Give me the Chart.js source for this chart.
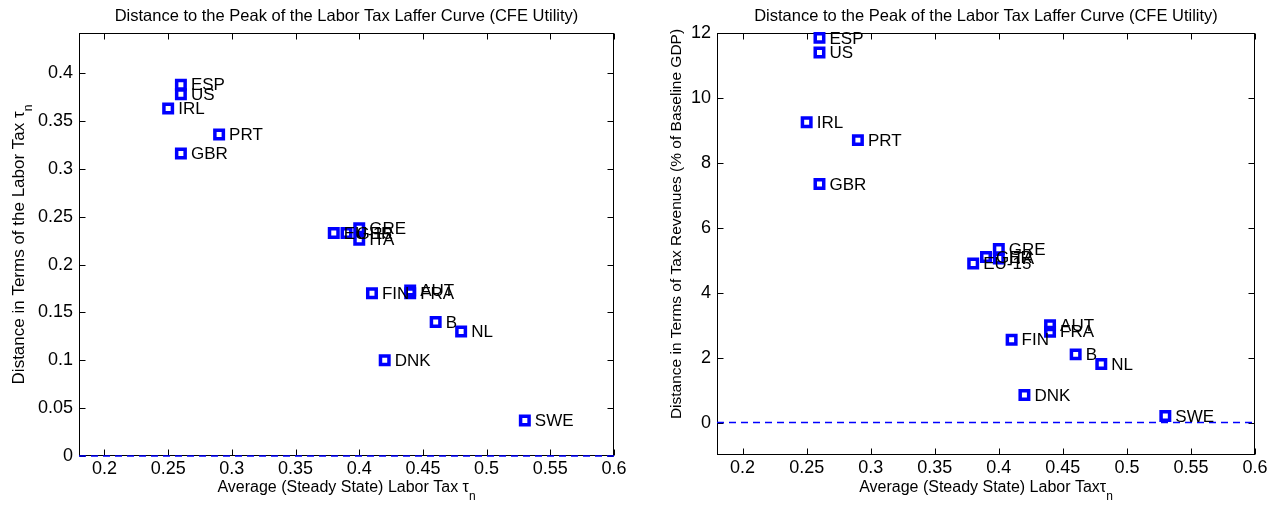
<!DOCTYPE html>
<html>
<head>
<meta charset="utf-8">
<script src="https://cdn.jsdelivr.net/npm/chart.js@4/dist/chart.umd.min.js"></script>
<style>
  body { margin: 0; background: #fff; width: 1279px; height: 508px; overflow: hidden; }
  .panel { position: absolute; top: 0; height: 508px; }
  #p1 { left: 0; width: 640px; }
  #p2 { left: 640px; width: 639px; }
</style>
</head>
<body>
<div class="panel" id="p1"><canvas id="c1" width="640" height="508"></canvas></div>
<div class="panel" id="p2"><canvas id="c2" width="639" height="508"></canvas></div>
<script>
// ---- data ----
var countries   = ['ESP', 'US', 'IRL', 'PRT', 'GBR', 'GRE', 'EU-15', 'GER', 'ITA', 'FIN', 'AUT', 'FRA', 'B', 'NL', 'DNK', 'SWE'];
var laborTax    = [0.26, 0.26, 0.25, 0.29, 0.26, 0.40, 0.38, 0.39, 0.40, 0.41, 0.44, 0.44, 0.46, 0.48, 0.42, 0.53];
var distTax     = [0.388, 0.378, 0.363, 0.336, 0.316, 0.238, 0.233, 0.233, 0.226, 0.170, 0.173, 0.170, 0.140, 0.130, 0.100, 0.037];
var distRevenue = [11.85, 11.4, 9.25, 8.7, 7.35, 5.35, 4.9, 5.1, 5.05, 2.55, 3.0, 2.8, 2.1, 1.8, 0.85, 0.2];

var xTicks      = [0.2, 0.25, 0.3, 0.35, 0.4, 0.45, 0.5, 0.55, 0.6];
var yTicksLeft  = [0, 0.05, 0.1, 0.15, 0.2, 0.25, 0.3, 0.35, 0.4];
var yTicksRight = [0, 2, 4, 6, 8, 10, 12];
var zeroLineX   = [0.18, 0.6];

var TITLE = 'Distance to the Peak of the Labor Tax Laffer Curve (CFE Utility)';
var FONT = '"Liberation Sans", Arial, Helvetica, sans-serif';
var BLUE = '#0000ff';

// text with a small subscript after it, optionally rotated
function drawSubText(ctx, main, sub, cx, cy, size, rotate) {
  ctx.save();
  ctx.translate(cx, cy);
  if (rotate) ctx.rotate(-Math.PI / 2);
  ctx.font = size + 'px ' + FONT;
  var w1 = ctx.measureText(main).width;
  ctx.font = Math.round(size * 0.72) + 'px ' + FONT;
  var w2 = ctx.measureText(sub).width;
  var x0 = -(w1 + w2) / 2;
  ctx.fillStyle = '#000';
  ctx.textBaseline = 'middle';
  ctx.textAlign = 'left';
  ctx.font = size + 'px ' + FONT;
  ctx.fillText(main, x0, 0);
  ctx.font = Math.round(size * 0.72) + 'px ' + FONT;
  ctx.fillText(sub, x0 + w1, size * 0.55);
  ctx.restore();
}

// matlab style box with inward ticks
var framePlugin = {
  id: 'frame',
  beforeDatasetsDraw: function (chart) {
    var ctx = chart.ctx, a = chart.chartArea;
    var xs = chart.scales.x, ys = chart.scales.y;
    var L = Math.round(a.left) + 0.5, R = Math.round(a.right) - 0.5;
    var T = Math.round(a.top) + 0.5, B = Math.round(a.bottom) - 0.5;
    ctx.save();
    ctx.strokeStyle = '#000';
    ctx.lineWidth = 1;
    ctx.strokeRect(L, T, R - L, B - T);
    ctx.beginPath();
    xs.ticks.forEach(function (t) {
      var px = Math.round(xs.getPixelForValue(t.value)) + 0.5;
      ctx.moveTo(px, B); ctx.lineTo(px, B - 6);
      ctx.moveTo(px, T); ctx.lineTo(px, T + 6);
    });
    ys.ticks.forEach(function (t) {
      var py = Math.round(ys.getPixelForValue(t.value)) + 0.5;
      ctx.moveTo(L, py); ctx.lineTo(L + 6, py);
      ctx.moveTo(R, py); ctx.lineTo(R - 6, py);
    });
    ctx.stroke();
    ctx.restore();
  },
  afterDraw: function (chart, args, opts) {
    var ctx = chart.ctx, a = chart.chartArea;
    var cx = (a.left + a.right) / 2, cy = (a.top + a.bottom) / 2;
    ctx.save();
    ctx.fillStyle = '#000';
    ctx.font = '16.5px ' + FONT;
    ctx.textAlign = 'center';
    ctx.textBaseline = 'middle';
    ctx.fillText(TITLE, cx, 16);
    ctx.restore();
    drawSubText(ctx, opts.xTitle, 'n', cx, 488, 16, false);
    drawSubText(ctx, opts.yTitle, opts.ySub, opts.yTitleX, opts.yTitleY || cy, opts.yTitleSize, true);
  }
};

// country names next to the markers
var labelPlugin = {
  id: 'countryLabels',
  afterDatasetsDraw: function (chart) {
    var ctx = chart.ctx;
    var meta = chart.getDatasetMeta(1);
    ctx.save();
    ctx.fillStyle = '#000';
    ctx.font = '17px ' + FONT;
    ctx.textAlign = 'left';
    ctx.textBaseline = 'middle';
    meta.data.forEach(function (el, i) {
      ctx.fillText(countries[i], el.x + 10, el.y + 1);
    });
    ctx.restore();
  }
};

function makeChart(id, yValues, yMin, yMax, yTicks, box, frameOpts) {
  var pts = laborTax.map(function (x, i) { return { x: x, y: yValues[i] }; });
  var zero = zeroLineX.map(function (x) { return { x: x, y: 0 }; });
  return new Chart(document.getElementById(id), {
    type: 'scatter',
    data: {
      datasets: [
        { type: 'line', data: zero, borderColor: BLUE, borderWidth: 1.6, borderDash: [7, 5], pointRadius: 0, fill: false, clip: false },
        { data: pts, pointStyle: 'rect', pointRadius: 6, borderColor: BLUE, backgroundColor: 'rgba(0,0,0,0)', pointBorderWidth: 3.5, clip: false }
      ]
    },
    options: {
      responsive: false,
      animation: false,
      events: [],
      layout: { padding: { left: 0, right: box.right, top: box.top, bottom: 0 } },
      plugins: {
        legend: { display: false },
        tooltip: { enabled: false },
        frame: frameOpts
      },
      scales: {
        x: {
          type: 'linear', min: 0.18, max: 0.6,
          afterBuildTicks: function (s) { s.ticks = xTicks.map(function (v) { return { value: v }; }); },
          afterFit: function (s) { s.height = box.xh; },
          grid: { display: false, drawTicks: false },
          border: { display: false },
          ticks: { color: '#000', font: { size: 18, family: FONT }, padding: 2, maxRotation: 0, callback: function (v) { return String(v); } }
        },
        y: {
          type: 'linear', min: yMin, max: yMax,
          afterBuildTicks: function (s) { s.ticks = yTicks.map(function (v) { return { value: v }; }); },
          afterFit: function (s) { s.width = box.yw; },
          grid: { display: false, drawTicks: false },
          border: { display: false },
          ticks: { color: '#000', font: { size: 18, family: FONT }, padding: 6, callback: function (v) { return String(v); } }
        }
      }
    },
    plugins: [framePlugin, labelPlugin]
  });
}

makeChart('c1', distTax, 0, 0.442, yTicksLeft,
  { right: 26, top: 33, xh: 52, yw: 79 },
  { xTitle: 'Average (Steady State) Labor Tax \u03c4', yTitle: 'Distance in Terms of the Labor Tax \u03c4', ySub: 'n',
    yTitleX: 19, yTitleSize: 17 });

makeChart('c2', distRevenue, -1, 12, yTicksRight,
  { right: 24, top: 33, xh: 53, yw: 77 },
  { xTitle: 'Average (Steady State) Labor Tax\u03c4', yTitle: 'Distance in Terms of Tax Revenues (% of Baseline GDP)', ySub: '',
    yTitleX: 37, yTitleY: 224, yTitleSize: 15.5 });
</script>
</body>
</html>
